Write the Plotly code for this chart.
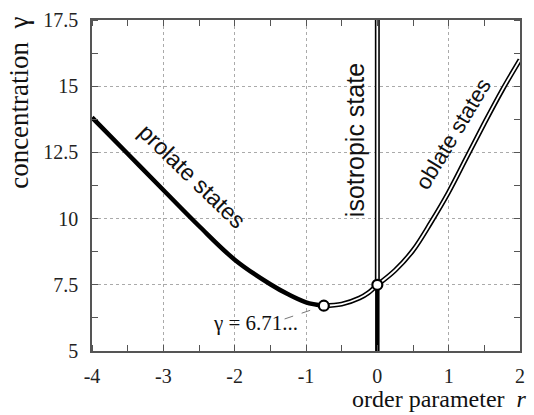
import plotly.graph_objects as go

# ---- data ----
prolate_r = [-4.0, -3.5, -3.0, -2.5, -2.0, -1.5, -1.25, -1.0, -0.75]
prolate_gamma = [13.82, 12.45, 11.08, 9.72, 8.45, 7.52, 7.14, 6.84, 6.71]

unstable_r = [-0.75, -0.5, -0.25, -0.125, 0.0]
unstable_gamma = [6.71, 6.77, 7.0, 7.2, 7.5]

oblate_r = [0.0, 0.25, 0.5, 0.75, 1.0, 1.25, 1.5, 1.75, 2.0]
oblate_gamma = [7.5, 8.05, 8.8, 9.85, 11.0, 12.3, 13.6, 14.85, 16.0]

iso_r_low = [0.0, 0.0]
iso_gamma_low = [5.0, 7.5]
iso_r_high = [0.0, 0.0]
iso_gamma_high = [7.5, 17.5]

points_r = [-0.75, 0.0]
points_gamma = [6.71, 7.5]

leader_r = [-1.3, -0.75]
leader_gamma = [6.21, 6.71]

x_ticks = [-4, -3, -2, -1, 0, 1, 2]
x_tick_labels = ["-4", "-3", "-2", "-1", "0", "1", "2"]
y_ticks = [5, 7.5, 10, 12.5, 15, 17.5]
y_tick_labels = ["5", "7.5", "10", "12.5", "15", "17.5"]

serif = "Liberation Serif"
sans = "Liberation Sans"

fig = go.Figure()

def double_line(xs, ys):
    fig.add_trace(go.Scatter(x=xs, y=ys, mode="lines",
                             line=dict(color="black", width=5, shape="spline"),
                             hoverinfo="skip", showlegend=False))
    fig.add_trace(go.Scatter(x=xs, y=ys, mode="lines",
                             line=dict(color="white", width=1.8, shape="spline"),
                             hoverinfo="skip", showlegend=False))

# leader line
fig.add_trace(go.Scatter(x=leader_r, y=leader_gamma, mode="lines",
                         line=dict(color="#777", width=1, dash="dash"),
                         showlegend=False, hoverinfo="skip"))
# prolate thick
fig.add_trace(go.Scatter(x=prolate_r, y=prolate_gamma, mode="lines",
                         line=dict(color="black", width=4.5, shape="spline"),
                         showlegend=False))
# isotropic lower (thick)
fig.add_trace(go.Scatter(x=iso_r_low, y=iso_gamma_low, mode="lines",
                         line=dict(color="black", width=4.5),
                         showlegend=False))
double_line(unstable_r, unstable_gamma)
double_line(oblate_r, oblate_gamma)
double_line(iso_r_high, iso_gamma_high)

fig.add_trace(go.Scatter(x=points_r, y=points_gamma, mode="markers",
                         marker=dict(size=10, color="white",
                                     line=dict(color="black", width=2.2)),
                         showlegend=False))

tickfont = dict(family=serif, size=20, color="#222")
axis_common = dict(showline=True, linecolor="#555", linewidth=1.5,
                   mirror=True, showgrid=True, gridcolor="#aaa",
                   griddash="dot", gridwidth=1, zeroline=False,
                   ticks="", tickfont=tickfont)

fig.update_xaxes(range=[-4, 2], tickvals=x_ticks, ticktext=x_tick_labels,
                 minor=dict(ticks="inside", ticklen=6, dtick=0.5,
                            tickcolor="#555", showgrid=False),
                 ticklabelstandoff=6, **axis_common)
fig.update_yaxes(range=[5, 17.5], tickvals=y_ticks, ticktext=y_tick_labels,
                 minor=dict(ticks="inside", ticklen=6, dtick=1.25,
                            tickcolor="#555", showgrid=False),
                 ticklabelstandoff=8, **axis_common)

# mirrored minor ticks on top and right
fig.update_layout(
    xaxis2=dict(overlaying="x", side="top", range=[-4, 2], tickvals=x_ticks,
                showticklabels=False, ticks="", showgrid=False, zeroline=False,
                showline=False,
                minor=dict(ticks="inside", ticklen=6, dtick=0.5,
                           tickcolor="#555", showgrid=False)),
    yaxis2=dict(overlaying="y", side="right", range=[5, 17.5], tickvals=y_ticks,
                showticklabels=False, ticks="", showgrid=False, zeroline=False,
                showline=False,
                minor=dict(ticks="inside", ticklen=6, dtick=1.25,
                           tickcolor="#555", showgrid=False)),
)
fig.add_trace(go.Scatter(x=[-4], y=[5], xaxis="x2", yaxis="y2", mode="markers",
                         marker=dict(size=1, color="rgba(0,0,0,0)"),
                         showlegend=False, hoverinfo="skip"))

fig.add_annotation(x=-2.6, y=11.6, text="prolate states", showarrow=False,
                   textangle=44, font=dict(family=sans, size=23, color="#111"))
fig.add_annotation(x=-0.31, y=12.97, text="isotropic state", showarrow=False,
                   textangle=-90, font=dict(family=sans, size=25, color="#111"))
fig.add_annotation(x=1.07, y=13.2, text="oblate states", showarrow=False,
                   textangle=-59, font=dict(family=sans, size=22, color="#111"))
fig.add_annotation(x=-1.08, y=6.04, text="γ = 6.71...", showarrow=False,
                   xanchor="right", yanchor="middle",
                   font=dict(family=serif, size=21, color="#111"))

fig.add_annotation(xref="paper", yref="paper", x=1.02, y=-0.145,
                   xanchor="right", yanchor="middle", showarrow=False,
                   text="order parameter\u00a0\u00a0<i>r</i>",
                   font=dict(family=serif, size=24, color="#111"))
fig.add_annotation(xref="paper", yref="paper", x=-0.171, y=1.015,
                   xanchor="center", yanchor="top", showarrow=False,
                   textangle=-90,
                   text="concentration\u00a0\u00a0γ",
                   font=dict(family=serif, size=27, color="#111"))

fig.update_layout(width=534, height=415,
                  margin=dict(l=92, r=9, t=14, b=64),
                  plot_bgcolor="white", paper_bgcolor="white",
                  showlegend=False)

fig.write_html("out.html")
